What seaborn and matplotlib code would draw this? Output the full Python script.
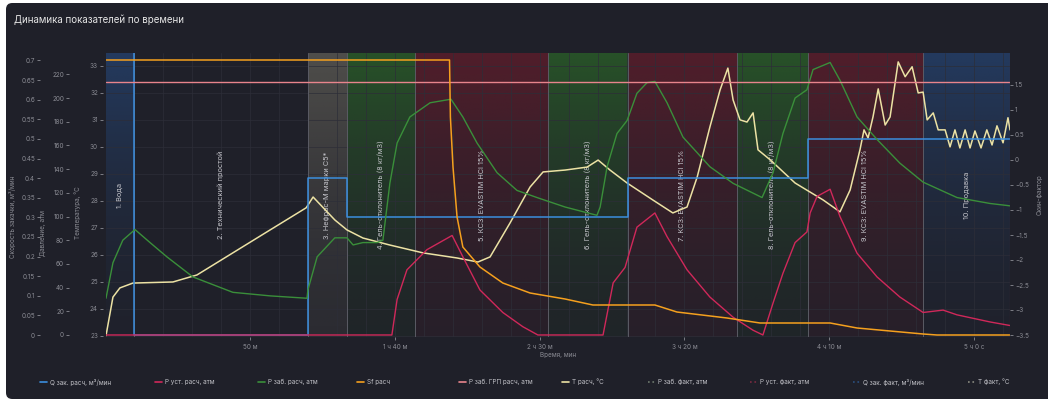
import numpy as np
import matplotlib.pyplot as plt
import matplotlib.transforms as mtransforms
from matplotlib.lines import Line2D
from matplotlib.patches import FancyBboxPatch
from matplotlib.colors import to_rgb
from matplotlib.ticker import FuncFormatter
import seaborn as sns

# ---------------- данные ----------------
stage_names = ["1. Вода", "2. Технический простой", "3. Нефрас-М марки С5*",
               "4. Гель-отклонитель (8 кг/м3)", "5. КСЗ: EVASTIM HCl 15%",
               "6. Гель-отклонитель (8 кг/м3)", "7. КСЗ: EVASTIM HCl 15%",
               "8. Гель-отклонитель (8 кг/м3)", "9. КСЗ: EVASTIM HCl 15%",
               "10. Продавка"]
stage_start = [0, 10, 70, 83.5, 107, 153, 180.5, 218, 242.5, 282.5]
stage_end = [10, 70, 83.5, 107, 153, 180.5, 218, 242.5, 282.5, 312.4]
stage_kind = ["water", "idle", "solvent", "gel", "acid", "gel", "acid", "gel", "acid", "water"]

# Q зак. расч, м³/мин (ступенчатый)
q_t = [0, 10, 70, 83.5, 180.5, 242.5, 312.4]
q_val = [0.75, 0, 0.4, 0.3, 0.4, 0.5, 0.5]

# P заб. расч, атм
pzab_t = [0.3, 2.7, 6.1, 10.3, 15.5, 21.3, 30.3, 44.1, 57.0, 69.7,
          70.0, 73.2, 79.3, 83.5, 85.6, 89.0, 93.9, 95.9, 98.3, 100.8,
          105.2, 112.2, 119.4, 123.5, 128.4, 135.3, 142.2, 149.1, 158.8, 169.8,
          170.9, 173.3, 176.7, 180.2, 183.6, 187.1, 189.8, 194.0, 199.5, 208.8,
          216.8, 226.8, 230.6, 234.0, 238.2, 242.3, 244.4, 250.3, 253.7, 259.6,
          266.5, 274.4, 282.4, 294.1, 305.5, 312.4]
pzab_val = [31, 61, 80, 89, 78, 66, 49, 36, 33, 31,
            38, 66, 82, 82, 76, 78, 78, 80, 128, 162,
            184, 196, 199, 184, 162, 137, 122, 116, 108, 101,
            108, 142, 170, 181, 204, 213, 214, 196, 167, 142,
            128, 116, 137, 170, 200, 207, 224, 230, 215, 184,
            165, 145, 129, 116, 111, 109]

# P уст. расч, атм
pust_t = [0.3, 99.0, 100.8, 104.2, 111.1, 119.8, 123.5, 129.4, 137.3, 144.2,
          149.4, 171.9, 175.4, 179.5, 183.6, 189.8, 194.0, 200.9, 208.8, 216.8,
          223.7, 227.1, 230.6, 234.0, 238.2, 242.3, 243.4, 245.8, 250.3, 253.7,
          259.6, 266.5, 274.4, 282.4, 289.3, 294.1, 305.5, 312.4]
pust_val = [0, 0, 30, 55, 72, 84, 66, 38, 19, 7,
            0, 0, 44, 57, 91, 103, 83, 55, 32, 15,
            4, 0, 27, 52, 78, 87, 103, 117, 123, 100,
            69, 49, 32, 19, 21, 17, 11, 8]

# P заб. ГРП расч, атм
pgrp_t = [0.3, 312.4]
pgrp_val = [213.5, 213.5]

# Sf расч
sf_t = [0.3, 118.9, 119.2, 120.1, 121.5, 123.5, 129.4, 137.3, 146.7, 158.8,
        168.4, 189.8, 197.4, 214.7, 226.1, 250.3, 259.6, 282.4, 287.2, 312.4]
sf_val = [2.0, 2.0, 0.86, -0.14, -1.14, -1.74, -2.14, -2.46, -2.66, -2.78,
          -2.9, -2.9, -3.04, -3.16, -3.26, -3.26, -3.36, -3.48, -3.5, -3.5]

# T расч, °C
temp_t = [0.3, 2.7, 5.1, 9.6, 23.4, 31.7, 44.1, 55.9, 69.4, 71.8,
          79.3, 83.5, 89.0, 98.3, 109.7, 121.5, 128.7, 132.9, 139.8, 146.7,
          151.2, 158.8, 166.4, 170.2, 174.3, 180.2, 189.1, 196.0, 200.9, 204.4,
          208.8, 212.3, 215.0, 216.8, 219.2, 221.6, 223.7, 225.4, 229.6, 238.2,
          247.9, 253.7, 257.2, 260.6, 262.0, 263.4, 265.1, 266.9, 269.3, 271.0,
          273.8, 276.2, 278.6, 280.7, 282.4, 283.8, 285.9, 287.6, 290.0, 291.7,
          293.4, 295.1, 296.9, 298.6, 300.3, 302.4, 304.4, 306.2, 307.9, 310.0,
          311.7, 312.4]
temp_val = [23.0, 24.43, 24.77, 24.95, 24.99, 25.25, 26.07, 26.85, 27.74, 28.14,
            27.29, 26.92, 26.62, 26.36, 26.07, 25.88, 25.73, 25.92, 27.18, 28.51,
            29.07, 29.14, 29.25, 29.51, 29.14, 28.66, 28.03, 27.55, 27.77, 28.88,
            30.74, 32.11, 32.92, 31.74, 31.0, 30.92, 31.26, 29.89, 29.52, 28.66,
            28.03, 27.59, 28.4, 29.89, 30.63, 30.33, 31.11, 32.15, 30.81, 31.11,
            33.15, 32.6, 32.97, 32.0, 32.03, 31.0, 31.26, 30.63, 30.63, 30.0,
            30.63, 29.96, 30.63, 29.96, 30.59, 29.96, 30.63, 30.07, 30.78, 30.15,
            31.08, 30.63]

time_ticks = [50, 100, 150, 200, 250, 300]
time_labels = ["50 м", "1 ч 40 м", "2 ч 30 м", "3 ч 20 м", "4 ч 10 м", "5 ч 0 с"]
vel_ticks = [0, 0.05, 0.1, 0.15, 0.2, 0.25, 0.3, 0.35, 0.4, 0.45, 0.5, 0.55, 0.6, 0.65, 0.7]
pres_ticks = [0, 20, 40, 60, 80, 100, 120, 140, 160, 180, 200, 220]
temp_ticks = [23, 24, 25, 26, 27, 28, 29, 30, 31, 32, 33]
skin_ticks = [-3.5, -3, -2.5, -2, -1.5, -1, -0.5, 0, 0.5, 1, 1.5]

legend_items = [
    ("Q зак. расч, м³/мин", "#3b8ede", "-"),
    ("P уст. расч, атм", "#d0285a", "-"),
    ("P заб. расч, атм", "#3a8f3a", "-"),
    ("Sf расч", "#f5a01e", "-"),
    ("P заб. ГРП расч, атм", "#e8848c", "-"),
    ("T расч, °C", "#ece2a4", "-"),
    ("P заб. факт, атм", "#6e7a6e", ":"),
    ("P уст. факт, атм", "#7a2a40", ":"),
    ("Q зак. факт, м³/мин", "#2b4f80", ":"),
    ("T факт, °C", "#8a8a80", ":"),
]

# ---------------- оформление ----------------
BG = "#1f2029"
GRID = "#2d2e38"
TXT = "#8b8c94"
C_Q, C_PUST, C_PZAB, C_SF, C_GRP, C_T = [c for _, c, _ in legend_items[:6]]
# цвет, непрозрачность сверху, непрозрачность снизу
STAGE_COLORS = {"water": ("#2a5ea8", 0.42, 0.03), "idle": None,
                "solvent": ("#8a8674", 0.45, 0.12),
                "gel": ("#2f7a28", 0.55, 0.06), "acid": ("#7a1c2c", 0.55, 0.10)}

XLIM = (0.3, 312.4)
V_LIM = (-0.005, 0.719)
P_LIM = (-1.7, 238)
T_LIM = (22.95, 33.48)
S_LIM = (-3.54, 2.14)

sns.set_theme(style="dark", rc={"axes.facecolor": BG, "figure.facecolor": "white"})
plt.rcParams["font.family"] = ["Inter", "DejaVu Sans"]

W, H = 1048, 399
fig = plt.figure(figsize=(W / 100, H / 100), dpi=100)
fig.patches.append(FancyBboxPatch((6 / W, 0), 1.0, 396 / H,
                                  boxstyle="round,pad=0,rounding_size=0.006",
                                  mutation_aspect=W / H, transform=fig.transFigure,
                                  facecolor=BG, edgecolor="none", zorder=-10))

ax_T = fig.add_axes([106 / W, 62 / H, 904 / W, 284 / H])
ax_V = ax_T.twinx()
ax_P = ax_T.twinx()
ax_S = ax_T.twinx()

for ax in (ax_T, ax_P, ax_V, ax_S):
    for s in ax.spines.values():
        s.set_visible(False)

# фоновые заливки этапов (градиент сверху вниз)
frac = np.linspace(0, 1, 96)
for t0, t1, kind in zip(stage_start, stage_end, stage_kind):
    spec = STAGE_COLORS[kind]
    if spec is None:
        continue
    col, a_top, a_bot = spec
    grad = np.zeros((96, 1, 4))
    grad[..., :3] = to_rgb(col)
    grad[:, 0, 3] = a_bot + (a_top - a_bot) * (1 - frac) ** 1.6
    ax_T.imshow(grad, extent=(t0, t1, T_LIM[0], T_LIM[1]), aspect="auto",
                origin="upper", zorder=0, interpolation="bilinear")

for t in stage_start[1:]:
    ax_T.axvline(t, color="#5a5b64", lw=0.7, zorder=1)

trans = mtransforms.blended_transform_factory(ax_T.transData, ax_T.transAxes)
for t0, t1, name in zip(stage_start, stage_end, stage_names):
    ax_T.text((t0 + t1) / 2, 0.5, name, transform=trans, rotation=90,
              ha="center", va="center", fontsize=5.3, color="#c4c4ca", zorder=1)

# линии
sns.lineplot(x=temp_t, y=temp_val, ax=ax_T, color=C_T, lw=1.1,
             estimator=None, sort=False, legend=False, zorder=3)
sns.lineplot(x=q_t, y=q_val, ax=ax_V, color=C_Q, lw=1.1, drawstyle="steps-post",
             estimator=None, sort=False, legend=False)
sns.lineplot(x=pzab_t, y=pzab_val, ax=ax_P, color=C_PZAB, lw=1.0,
             estimator=None, sort=False, legend=False)
sns.lineplot(x=pust_t, y=pust_val, ax=ax_P, color=C_PUST, lw=1.0,
             estimator=None, sort=False, legend=False)
sns.lineplot(x=pgrp_t, y=pgrp_val, ax=ax_P, color=C_GRP, lw=1.0,
             estimator=None, sort=False, legend=False)
sns.lineplot(x=sf_t, y=sf_val, ax=ax_S, color=C_SF, lw=1.1,
             estimator=None, sort=False, legend=False)

# оси
ax_T.set_xlim(*XLIM)
ax_T.set_ylim(*T_LIM)
ax_P.set_ylim(*P_LIM)
ax_V.set_ylim(*V_LIM)
ax_S.set_ylim(*S_LIM)

ax_T.set_xticks(time_ticks)
ax_T.set_xticklabels(time_labels)
ax_T.set_xticks(np.arange(10, 312, 10), minor=True)
ax_T.tick_params(axis="x", which="major", bottom=True, length=2.2, width=0.6,
                 pad=2.5, labelsize=4.6, colors=TXT)
ax_T.tick_params(axis="x", which="minor", bottom=True, length=0)
ax_T.grid(True, axis="x", which="both", color=GRID, lw=0.5)
ax_T.grid(True, axis="y", which="major", color=GRID, lw=0.5)
ax_T.set_xlabel("Время, мин", fontsize=4.6, color=TXT, labelpad=2)

fmt = FuncFormatter(lambda v, _: f"{v:g}".replace("-", "\u2212"))
for ax, ticks, off in ((ax_T, temp_ticks, 2.2), (ax_P, pres_ticks, 26.6), (ax_V, vel_ticks, 47.5)):
    ax.yaxis.tick_left()
    ax.yaxis.set_label_position("left")
    ax.spines["left"].set_position(("outward", off))
    ax.set_yticks(ticks)
    ax.yaxis.set_major_formatter(fmt)
    ax.tick_params(axis="y", left=True, right=False, length=2.2, width=0.6,
                   pad=1.4, labelsize=4.6, colors=TXT)

ax_S.yaxis.tick_right()
ax_S.set_yticks(skin_ticks)
ax_S.yaxis.set_major_formatter(fmt)
ax_S.tick_params(axis="y", right=True, left=False, length=2.2, width=0.6,
                 pad=1.4, labelsize=4.6, colors=TXT)
ax_S.axvline(XLIM[1], color="#5a2838", lw=0.8)

ax_V.set_ylabel("Скорость закачки, м³/мин", fontsize=4.6, color=TXT)
ax_V.yaxis.set_label_coords(-0.0996, 0.4225)
ax_P.set_ylabel("Давление, атм", fontsize=4.6, color=TXT)
ax_P.yaxis.set_label_coords(-0.0664, 0.366)
ax_T.set_ylabel("Температура, °C", fontsize=4.6, color=TXT)
ax_T.yaxis.set_label_coords(-0.0277, 0.437)
ax_S.set_ylabel("Скин-фактор", fontsize=4.6, color=TXT)
ax_S.yaxis.set_label_position("right")
ax_S.yaxis.set_label_coords(1.030, 0.5)

fig.text(14 / W, 1 - 20 / H, "Динамика показателей по времени",
         fontsize=7, color="#e6e6e6", va="center")

# легенда
leg_x = [40, 155, 258, 357, 459, 562, 648, 750, 853, 968]
for x, (label, col, ls) in zip(leg_x, legend_items):
    h = Line2D([], [], color=col, lw=1.2, ls=ls)
    fig.legend(handles=[h], labels=[label], loc="center left",
               bbox_to_anchor=(x / W, 1 - 382 / H), frameon=False,
               fontsize=4.6, labelcolor="#c0c0c6", handlelength=1.1,
               handletextpad=0.5, borderpad=0, borderaxespad=0)

fig.savefig("out.png", dpi=100)
